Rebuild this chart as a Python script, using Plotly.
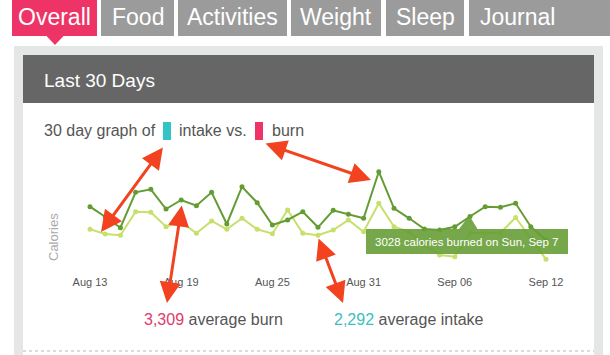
import plotly.graph_objects as go

W, H = 610, 355

# ---------------- data ----------------
dates = ['2014-08-13', '2014-08-14', '2014-08-15', '2014-08-16', '2014-08-17', '2014-08-18',
         '2014-08-19', '2014-08-20', '2014-08-21', '2014-08-22', '2014-08-23', '2014-08-24',
         '2014-08-25', '2014-08-26', '2014-08-27', '2014-08-28', '2014-08-29', '2014-08-30',
         '2014-08-31', '2014-09-01', '2014-09-02', '2014-09-03', '2014-09-04', '2014-09-05',
         '2014-09-06', '2014-09-07', '2014-09-08', '2014-09-09', '2014-09-10', '2014-09-11',
         '2014-09-12']
burn = [3604, 3016, 2370, 4451, 4628, 3469, 3998, 3663, 4451, 2587, 4780, 3840, 2528, 2822,
        3310, 2393, 3393, 3158, 2922, 5662, 3510, 2922, 2293, 2234, 2428, 3028, 3604, 3569,
        3804, 2428, 1646]
intake = [2276, 1999, 1923, 3310, 3275, 2428, 2705, 2040, 2764, 2276, 2922, 2276, 2017, 3410,
          2040, 1923, 2234, 2822, 2134, 3804, 2428, 2117, 1352, 764, 664, 2058, 2058, 2058,
          2969, 1746, 512]
tick_vals = ['2014-08-13', '2014-08-19', '2014-08-25', '2014-08-31', '2014-09-06', '2014-09-12']
tick_text = ['Aug 13', 'Aug 19', 'Aug 25', 'Aug 31', 'Sep 06', 'Sep 12']
tabs = ['Overall', 'Food', 'Activities', 'Weight', 'Sleep', 'Journal']
avg_burn = '3,309'
avg_intake = '2,292'
tooltip_text = '3028 calories burned on Sun, Sep 7'

# ---------------- helpers ----------------
FONT = 'Liberation Sans, Arial, Helvetica, sans-serif'


def px(x):
    return x / W


def py(y):
    return 1 - y / H


PINK = '#ee3466'
CYAN = '#33c4c6'
TABGRAY = '#9b9b9b'
DARK = '#666666'
PANEL = '#e5e6e6'
DKGREEN = '#649c34'
LTGREEN = '#c6e06c'
ARROW = '#f2421f'

fig = go.Figure()

fig.add_trace(go.Scatter(
    x=dates, y=intake, mode='lines+markers', name='intake',
    line=dict(color=LTGREEN, width=2), marker=dict(color=LTGREEN, size=5),
    cliponaxis=False, hoverinfo='skip'))
fig.add_trace(go.Scatter(
    x=dates, y=burn, mode='lines+markers', name='burn',
    line=dict(color=DKGREEN, width=2), marker=dict(color=DKGREEN, size=5),
    cliponaxis=False, hoverinfo='skip'))

shapes = []


def rect(x0, y0, x1, y1, color, layer='below'):
    shapes.append(dict(type='rect', xref='paper', yref='paper',
                       x0=px(x0), x1=px(x1), y0=py(y1), y1=py(y0),
                       fillcolor=color, line=dict(width=0), layer=layer))


# panel
rect(14, 46, 603, 356, PANEL)
rect(23, 55, 594, 103, DARK)
rect(23, 103, 594, 356, 'white')
shapes.append(dict(type='line', xref='paper', yref='paper', x0=px(23), x1=px(594),
                   y0=py(351), y1=py(351), line=dict(color='#b5b5b5', width=1, dash='dot'),
                   layer='below'))

# tabs
tab_x = [(12, 97), (101, 174), (178, 287), (291, 381), (386, 464), (469, 620)]
for i, (a, b) in enumerate(tab_x):
    rect(a, -1, b, 36, PINK if i == 0 else TABGRAY)
# pointer under Overall
shapes.append(dict(type='path', xref='paper', yref='paper',
                   path='M %f %f L %f %f L %f %f Z' % (px(46), py(35.5), px(64), py(35.5), px(55), py(45)),
                   fillcolor=PINK, line=dict(width=0), layer='below'))

# legend boxes
rect(163, 122, 171, 140, CYAN)
rect(255, 122, 263, 140, PINK)

# tooltip
rect(366, 229, 568, 254, 'rgba(103,158,55,0.9)', layer='above')
shapes.append(dict(type='path', xref='paper', yref='paper',
                   path='M %f %f L %f %f L %f %f Z' % (px(459), py(229), px(477.5), py(229), px(469.3), py(215.5)),
                   fillcolor='rgba(103,158,55,0.9)', line=dict(width=0), layer='above'))

annotations = []


def text(x, y, s, size, color, xanchor='left', angle=0):
    annotations.append(dict(x=px(x), y=py(y), xref='paper', yref='paper', text=s,
                            showarrow=False, xanchor=xanchor, yanchor='middle',
                            font=dict(family=FONT, size=size, color=color),
                            textangle=angle))


tab_cx = [54.5, 137.5, 232.5, 336, 425]
for i, t in enumerate(tabs[:5]):
    text(tab_cx[i], 17, t, 23, 'white', xanchor='center')
text(478, 17, tabs[5], 23, 'white')

text(42, 80, 'Last 30 Days', 19, 'white')
text(42, 131, '30 day graph of', 16, '#555555')
text(177, 131, 'intake vs.', 16, '#555555')
text(269.5, 131, 'burn', 16, '#555555')
text(53, 237, 'Calories', 13, '#aaaaaa', xanchor='center', angle=-90)
text(142, 319, '<span style="color:%s">%s</span> average burn' % ('#e03a6c', avg_burn), 16, '#555555')
text(332, 319, '<span style="color:%s">%s</span> average intake' % ('#3cbfc0', avg_intake), 16, '#555555')
text(467, 241.5, tooltip_text, 11.5, 'white', xanchor='center')


def arrow(x0, y0, x1, y1):
    annotations.append(dict(x=px(x1), y=py(y1), xref='paper', yref='paper',
                            ax=x0 - x1, ay=y0 - y1, axref='pixel', ayref='pixel',
                            text='', showarrow=True, arrowside='end+start',
                            arrowhead=2, startarrowhead=2, arrowsize=1.4, startarrowsize=1.4,
                            arrowwidth=3, arrowcolor=ARROW, standoff=0, startstandoff=0))


arrow(164, 146, 101, 232)
arrow(264, 143, 371, 180)
arrow(182, 204, 167, 303)
arrow(318, 237, 343, 303)

fig.update_layout(
    width=W, height=H, autosize=False,
    margin=dict(l=0, r=0, t=0, b=0, pad=0, autoexpand=False),
    paper_bgcolor='white', plot_bgcolor='rgba(0,0,0,0)',
    showlegend=False,
    shapes=shapes, annotations=annotations,
    xaxis=dict(domain=[px(90), px(546)], type='date',
               range=['2014-08-13', '2014-09-12'],
               tickvals=tick_vals, ticktext=tick_text,
               ticks='outside', ticklen=4, tickcolor='rgba(0,0,0,0)',
               showgrid=False, zeroline=False, showline=False, automargin=False,
               tickfont=dict(family=FONT, size=11, color='#555555'), fixedrange=True),
    yaxis=dict(domain=[py(268), py(150)], range=[0, 6938], automargin=False,
               showgrid=False, zeroline=False, showline=False, showticklabels=False,
               fixedrange=True),
    font=dict(family=FONT),
)

fig.write_html('out.html', config={'displayModeBar': False},
               post_script="document.body.style.margin='0';document.body.style.overflow='hidden';")
